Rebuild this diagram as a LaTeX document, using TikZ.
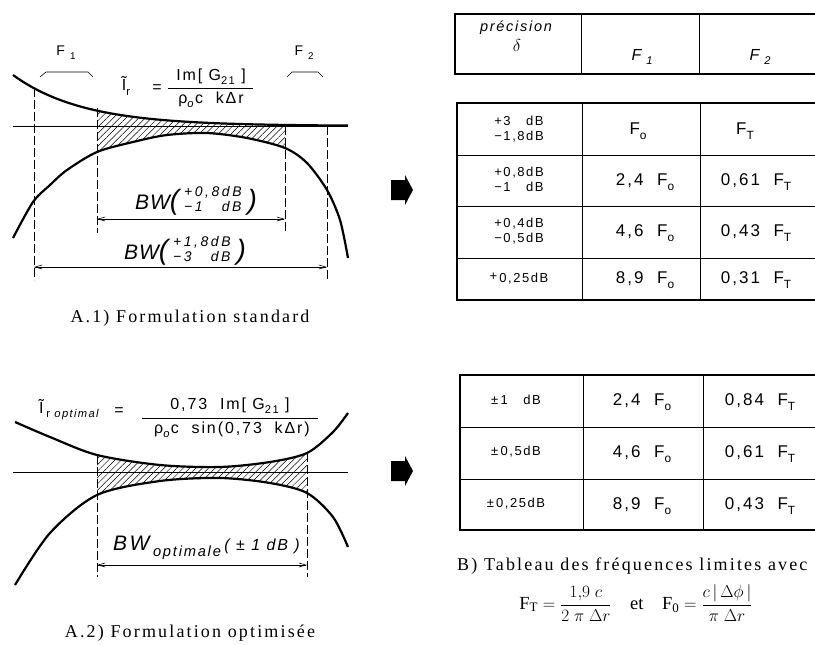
\documentclass[tikz,border=0pt]{standalone}
\usepackage{amsmath}
\usepackage{fontspec}
\setmainfont{Liberation Serif}
\setsansfont{Liberation Sans}
\newfontfamily\draftfont[LetterSpace=12]{Liberation Sans}
\newfontfamily\widefont[LetterSpace=18]{Liberation Sans}
\newfontfamily\capfont[LetterSpace=12]{Liberation Serif}
\usetikzlibrary{arrows.meta, patterns.meta}
\newcommand\lowsub[1]{\raisebox{-0.5ex}{\scalebox{0.7}{#1}}}
\newcommand\stack[2]{\begin{tabular}{@{}l@{}}#1\\#2\end{tabular}}
\newcommand\bwlabel[2]{B\hspace{1pt}W{\fontsize{28}{28}\selectfont(}\hspace{5pt}\raisebox{5pt}{\widefont\itshape\fontsize{14}{14.5}\selectfont\stack{#1}{#2}}\hspace{6pt}{\fontsize{28}{28}\selectfont)}}
% curves of the two sketches
\newcommand\upperA{plot[domain=13:348, samples=70] (\x, {126-51*exp(-(\x-13)/70)})}
\newcommand\lowerA{plot[smooth] coordinates {(13,238) (33,202) (50,185) (67,170) (97,152) (133,142) (167,135) (207,133) (247,138) (285,148) (307,163) (327,190) (340,220) (348,258)}}
\newcommand\upperB{plot[smooth] coordinates {(15,422) (50,437) (97,455) (160,465) (220,467) (270,462) (307,453) (333,432) (348,413)}}
\newcommand\lowerB{plot[smooth] coordinates {(15,585) (50,533) (97,495) (160,481) (220,478) (270,483) (307,493) (333,517) (348,547)}}

\begin{document}
\begin{tikzpicture}[
    x=1pt, y=-1pt,
    curve/.style={line width=2.2pt},
    axisline/.style={line width=0.6pt},
    guide/.style={line width=0.6pt, dash pattern=on 9pt off 3pt},
    dim/.style={line width=0.6pt, {Straight Barb[length=7pt,width=4pt]}-{Straight Barb[length=7pt,width=4pt]}},
    hatch/.style={pattern={Lines[angle=45,distance=4.5pt,line width=0.5pt]}},
    lbl/.style={font=\draftfont\fontsize{14}{16}\selectfont, inner sep=0pt},
    frm/.style={font=\draftfont\fontsize{16}{18}\selectfont, inner sep=0pt},
    bw/.style={font=\draftfont\itshape\fontsize{21}{21}\selectfont, inner sep=0pt},
    captxt/.style={font=\capfont\fontsize{18}{20}\selectfont, inner sep=0pt},
    cell/.style={font=\draftfont\fontsize{17}{20}\selectfont, inner sep=0pt},
    smalltxt/.style={font=\draftfont\fontsize{13}{15}\selectfont, inner sep=0pt},
    tabout/.style={line width=1.2pt},
    tabin/.style={line width=0.6pt},
    bigarrow/.style={fill=black},
]
    \useasboundingbox (0,0) rectangle (815,645);

    % A.1) standard formulation
    \begin{scope}
        \clip (97,0) rectangle (285,300);
        \clip \upperA -- (348,300) -- (13,300) -- cycle;
        \clip \lowerA -- (348,0) -- (13,0) -- cycle;
        \fill[hatch] (97,0) rectangle (285,300);
    \end{scope}
    \draw[axisline] (13,126) -- (348,126);
    \draw[curve] \upperA;
    \draw[curve] \lowerA;

    \coordinate (a1) at (34,88);   \coordinate (a1b) at (34,280);
    \coordinate (b1) at (97,108);  \coordinate (b1b) at (97,233);
    \coordinate (c1) at (285,126); \coordinate (c1b) at (285,233);
    \coordinate (d1) at (327,126); \coordinate (d1b) at (327,280);
    \draw[guide] (a1) -- (a1b);
    \draw[guide] (b1) -- (b1b);
    \draw[guide] (c1) -- (c1b);
    \draw[guide] (d1) -- (d1b);
    \draw[dim] (b1b |- 0,219) -- (c1b |- 0,219);
    \draw[dim] (a1b |- 0,267) -- (d1b |- 0,267);

    \node[lbl] (fone) at (66,53) {F\hspace{5pt}\lowsub{1}};
    \node[lbl] (ftwo) at (304,53) {F\hspace{5pt}\lowsub{2}};
    \draw[axisline] (40,77) -- (46,72) -- (88,72) -- (93,77);
    \draw[axisline] (287,77) -- (292,72) -- (318,72) -- (323,77);

    \node[frm] (itr) at (126,86) {Ĩ\lowsub{r}};
    \node[frm] (eqA) at (157,89) {=};
    \node[frm] (numA) at (211,77) {Im[ G\lowsub{21} ]};
    \node[frm] (denA) at (211,100) {ρ\lowsub{\textit{o}}c\ \ kΔr};
    \draw[axisline] (168,88) -- (253,88);

    \node[bw] (bwin) at (196,201) {\bwlabel{+0,8dB}{−1\hfill dB}};
    \node[bw] (bwout) at (185,251) {\bwlabel{+1,8dB}{−3\hfill dB}};

    \node[captxt] (capA) at (190,318) {A.1) Formulation standard};

    % A.2) optimised formulation
    \begin{scope}
        \clip (97,300) rectangle (307,600);
        \clip \upperB -- (348,600) -- (13,600) -- cycle;
        \clip \lowerB -- (348,300) -- (13,300) -- cycle;
        \fill[hatch] (97,300) rectangle (307,600);
    \end{scope}
    \draw[axisline] (13,472) -- (348,472);
    \draw[curve] \upperB;
    \draw[curve] \lowerB;

    \coordinate (b2) at (97,455);  \coordinate (b2b) at (97,577);
    \coordinate (c2) at (307,453); \coordinate (c2b) at (307,577);
    \draw[guide] (b2) -- (b2b);
    \draw[guide] (c2) -- (c2b);
    \draw[dim] (b2b |- 0,565) -- (c2b |- 0,565);

    \node[frm, anchor=west] (itro) at (39,410) {Ĩ\,\lowsub{r \itshape optimal}};
    \node[frm] (eqB) at (119,412) {=};
    \node[frm] (numB) at (230,406) {0,73\ \ Im[ G\lowsub{21} ]};
    \node[frm] (denB) at (232,430) {ρ\lowsub{\textit{o}}c\ \ sin(0,73\ \ kΔr)};
    \draw[axisline] (142,418) -- (318,418);

    \node[bw, anchor=west] (bwopt) at (113,548) {BW\,\lowsub{optimale}\,{\fontsize{16}{16}\selectfont( ± 1 dB )}};

    \node[captxt] (capB) at (190,633) {A.2) Formulation optimisée};

    % arrows towards the tables
    \fill[bigarrow] (391,180) -- (405,180) -- (405,175) -- (413,190) -- (405,205) -- (405,200) -- (391,200) -- cycle;
    \fill[bigarrow] (391,461) -- (405,461) -- (405,456) -- (413,471) -- (405,486) -- (405,481) -- (391,481) -- cycle;

    % B) header table
    \draw[tabout] (815,14) -- (455,14) -- (455,74) -- (815,74);
    \draw[tabin] (581,14) -- (581,74) (699,14) -- (699,74);
    \node[smalltxt, font=\draftfont\itshape\fontsize{14.5}{16}\selectfont] (prec) at (516,28) {précision};
    \node[inner sep=0pt, font=\fontsize{16}{16}\selectfont] (delta) at (517,46) {$\delta$};
    \node[cell, font=\draftfont\itshape\fontsize{16}{18}\selectfont] (hfone) at (642,57) {F\hspace{5pt}\lowsub{1}};
    \node[cell, font=\draftfont\itshape\fontsize{16}{18}\selectfont] (hftwo) at (760,57) {F\hspace{5pt}\lowsub{2}};

    % B) standard table
    \draw[tabout] (815,103) -- (457,103) -- (457,300) -- (815,300);
    \draw[tabin] (457,155) -- (815,155) (457,206) -- (815,206) (457,258) -- (815,258);
    \draw[tabin] (582,103) -- (582,300) (700,103) -- (700,300);
    \node[smalltxt] (s11) at (519,130) {\stack{+3\hfill dB}{−1,8dB}};
    \node[cell] (s12) at (638,131) {F\lowsub{o}};
    \node[cell] (s13) at (745,131) {F\lowsub{T}};
    \node[smalltxt] (s21) at (519,181) {\stack{+0,8dB}{−1\hfill dB}};
    \node[cell] (s22) at (645,182) {2,4\ \ F\lowsub{o}};
    \node[cell] (s23) at (756,182) {0,61\ \ F\lowsub{T}};
    \node[smalltxt] (s31) at (519,232) {\stack{+0,4dB}{−0,5dB}};
    \node[cell] (s32) at (645,233) {4,6\ \ F\lowsub{o}};
    \node[cell] (s33) at (756,233) {0,43\ \ F\lowsub{T}};
    \node[smalltxt] (s41) at (519,279) {\raisebox{2pt}{+}\,0,25dB};
    \node[cell] (s42) at (645,280) {8,9\ \ F\lowsub{o}};
    \node[cell] (s43) at (756,280) {0,31\ \ F\lowsub{T}};

    % B) optimised table
    \draw[tabout] (815,375) -- (460,375) -- (460,530) -- (815,530);
    \draw[tabin] (460,427) -- (815,427) (460,479) -- (815,479);
    \draw[tabin] (583,375) -- (583,530) (703,375) -- (703,530);
    \node[smalltxt] (o11) at (516,400) {±\,1\ \ \ dB};
    \node[smalltxt] (o21) at (516,452) {±\,0,5dB};
    \node[smalltxt] (o31) at (516,504) {±\,0,25dB};
    \node[cell] (o12) at (642,402) {2,4\ \ F\lowsub{o}};
    \node[cell] (o22) at (642,454) {4,6\ \ F\lowsub{o}};
    \node[cell] (o32) at (642,506) {8,9\ \ F\lowsub{o}};
    \node[cell] (o13) at (760,402) {0,84\ \ F\lowsub{T}};
    \node[cell] (o23) at (760,454) {0,61\ \ F\lowsub{T}};
    \node[cell] (o33) at (760,506) {0,43\ \ F\lowsub{T}};

    \node[captxt, anchor=west] (capT) at (457,566) {B) Tableau des fréquences limites avec};
    \node[inner sep=0pt, font=\fontsize{18.5}{20}\selectfont] (limits) at (636,603)
        {$\mathrm{F_T}=\dfrac{1{,}9\;c}{2\;\pi\;\Delta r}$\quad et\quad $\mathrm{F_0}=\dfrac{c\,|\,\Delta\phi\,|}{\pi\;\Delta r}$};
\end{tikzpicture}
\end{document}
